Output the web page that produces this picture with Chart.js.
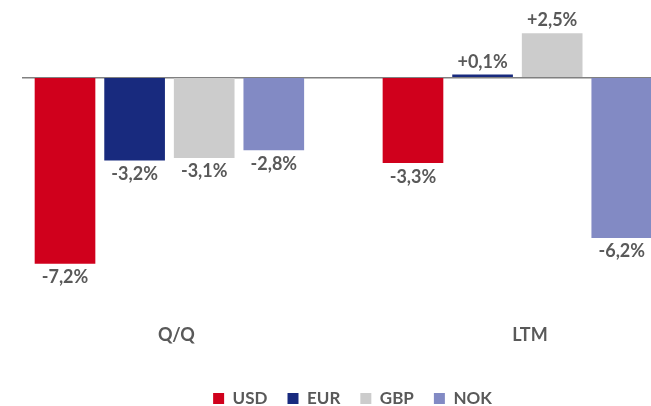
<!DOCTYPE html>
<html>
<head>
<meta charset="utf-8">
<script src="https://cdn.jsdelivr.net/npm/chart.js@4/dist/chart.umd.min.js"></script>
<style>
  html, body { margin: 0; padding: 0; background: #fff; overflow: hidden; }
  #wrap { width: 651px; height: 406px; position: relative; }
</style>
</head>
<body>
<div id="wrap"><canvas id="fx"></canvas></div>
<script>
// ── DATA ───────────────────────────────────────────────────────
const CATEGORIES = ['Q/Q', 'LTM'];
const CURRENCIES = ['USD', 'EUR', 'GBP', 'NOK'];
const USD = [-7.2, -3.3];
const EUR = [-3.2, 0.1];
const GBP = [-3.1, 1.7];   // LTM bar is drawn shorter than its +2,5% label in the source
const NOK = [-2.8, -6.2];
const USD_LABELS = ['-7,2%', '-3,3%'];
const EUR_LABELS = ['-3,2%', '+0,1%'];
const GBP_LABELS = ['-3,1%', '+2,5%'];
const NOK_LABELS = ['-2,8%', '-6,2%'];

// ── STYLE ──────────────────────────────────────────────────────
const COLORS = ['#D0001C', '#182A7E', '#CCCCCC', '#828AC4'];
const TEXT = '#595959';
const FONT = 'Lato, "Open Sans", sans-serif';
const WEIGHT = 'bold';
const GROUP_STEP = 5;            // slots between the two groups
const TICK_POS = [1.6, 6.68];    // where the group captions sit

const SERIES = [USD, EUR, GBP, NOK];
const LABELS = [USD_LABELS, EUR_LABELS, GBP_LABELS, NOK_LABELS];

const datasets = SERIES.map((vals, s) => ({
  label: CURRENCIES[s],
  data: vals.map((v, g) => ({ x: g * GROUP_STEP + s, y: v })),
  backgroundColor: COLORS[s],
  borderWidth: 0,
  barThickness: 60,
  grouped: false,
}));

// value labels at the end of each bar
const valueLabels = {
  id: 'valueLabels',
  afterDatasetsDraw(chart) {
    const ctx = chart.ctx;
    ctx.save();
    ctx.font = WEIGHT + ' 18px ' + FONT;
    ctx.fillStyle = TEXT;
    ctx.textAlign = 'center';
    ctx.textBaseline = 'middle';
    chart.data.datasets.forEach((ds, s) => {
      chart.getDatasetMeta(s).data.forEach((bar, g) => {
        const v = SERIES[s][g];
        const y = v >= 0 ? bar.y - 13 : bar.y + 14;
        ctx.fillText(LABELS[s][g], bar.x, y);
      });
    });
    ctx.restore();
  },
};

// nudge the legend a little right of centre, as in the source
const legendShift = {
  id: 'legendShift',
  afterLayout(chart) {
    chart.legend.left += 16;
    chart.legend.right += 16;
  },
};

new Chart(document.getElementById('fx'), {
  type: 'bar',
  data: { datasets },
  plugins: [valueLabels, legendShift],
  options: {
    responsive: true,
    maintainAspectRatio: false,
    animation: false,
    layout: { padding: { left: 22, right: 0, top: 0, bottom: -11 } },
    plugins: {
      tooltip: { enabled: false },
      legend: {
        position: 'bottom',
        labels: {
          boxWidth: 11, boxHeight: 11, padding: 20,
          color: TEXT, font: { family: FONT, size: 17, weight: WEIGHT },
        },
      },
    },
    scales: {
      x: {
        type: 'linear',
        min: -0.618, max: 8.42,
        offset: false,
        grid: { display: false },
        border: { display: false },
        afterFit: sc => { sc.height = 60; },
        afterBuildTicks: sc => { sc.ticks = TICK_POS.map(v => ({ value: v })); },
        ticks: {
          autoSkip: false, maxRotation: 0, padding: 6,
          color: TEXT, font: { family: FONT, size: 18, weight: WEIGHT },
          callback: (v, i) => CATEGORIES[i],
        },
      },
      y: {
        min: -9, max: 3,
        border: { display: false },
        grid: {
          drawTicks: false,
          lineWidth: 1.5,
          color: c => c.tick.value === 0 ? '#808080' : 'transparent',
        },
        ticks: { display: false, stepSize: 1 },
      },
    },
  },
});
</script>
</body>
</html>
